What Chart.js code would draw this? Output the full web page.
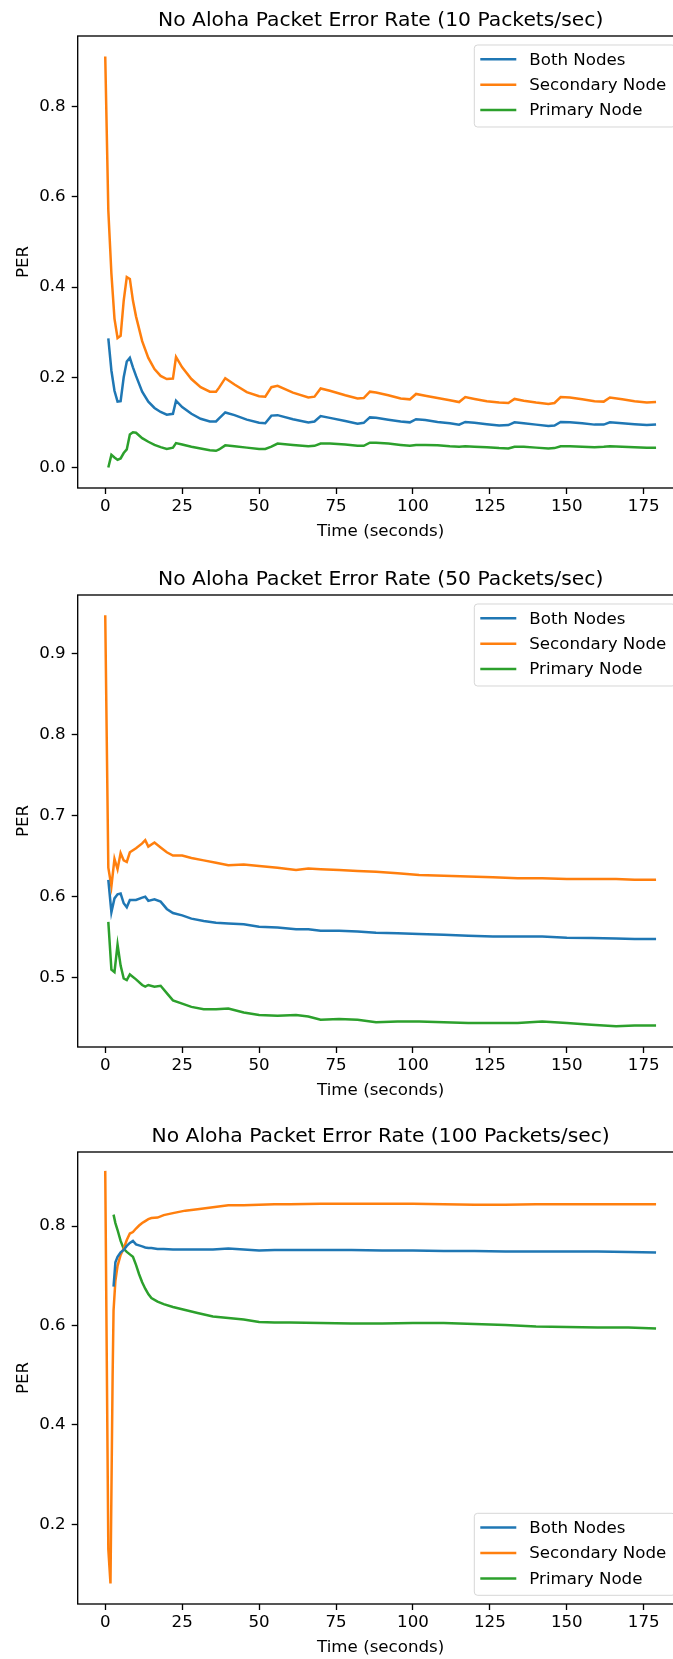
<!DOCTYPE html>
<html lang="en">
<head>
<meta charset="UTF-8">
<title>No Aloha Packet Error Rate</title>
<script src="https://cdn.jsdelivr.net/npm/chart.js"></script>
<style>
  html, body { margin: 0; padding: 0; background: #fff; overflow: hidden; }
  #wrap { position: relative; width: 673px; height: 1659px; overflow: hidden; }
  canvas { position: absolute; left: 0; }
</style>
</head>
<body>
<div id="wrap">
  <canvas id="chart10" width="700" height="560" style="top:0px"></canvas>
  <canvas id="chart50" width="700" height="560" style="top:558.6px"></canvas>
  <canvas id="chart100" width="700" height="560" style="top:1115.7px"></canvas>
</div>
<script>
// ---- data ----
const seriesNames = ['Both Nodes', 'Secondary Node', 'Primary Node'];
const xTicks = [0, 25, 50, 75, 100, 125, 150, 175];

// 10 packets/sec
const c1Title = 'No Aloha Packet Error Rate (10 Packets/sec)';
const c1YTicks = [0.0, 0.2, 0.4, 0.6, 0.8];
const c1Time = [0,1,2,3,4,5,6,7,8,9,10,12,14,16,18,20,22,23,25,28,31,34,36,37,39,42,46,50,52,54,56,61,66,68,70,73,78,82,84,86,88,92,96,99,101,104,108,112,115,117,120,124,128,131,133,136,140,144,146,148,151,155,159,162,164,168,172,176,179];
const c1Secondary = [0.911,0.57,0.43,0.33,0.287,0.292,0.37,0.422,0.418,0.37,0.335,0.28,0.243,0.218,0.203,0.196,0.197,0.245,0.222,0.196,0.178,0.168,0.168,0.177,0.198,0.184,0.167,0.158,0.157,0.178,0.181,0.166,0.155,0.157,0.175,0.170,0.160,0.153,0.154,0.168,0.166,0.160,0.153,0.151,0.163,0.159,0.154,0.149,0.145,0.156,0.152,0.147,0.144,0.143,0.152,0.148,0.144,0.141,0.143,0.156,0.155,0.151,0.147,0.146,0.155,0.151,0.147,0.144,0.145];
const c1Both = [null,0.286,0.215,0.17,0.146,0.147,0.2,0.235,0.243,0.222,0.203,0.168,0.146,0.132,0.123,0.117,0.119,0.148,0.134,0.119,0.108,0.102,0.102,0.109,0.122,0.116,0.106,0.099,0.098,0.115,0.116,0.107,0.1,0.102,0.114,0.110,0.103,0.097,0.099,0.111,0.110,0.106,0.102,0.1,0.107,0.105,0.101,0.098,0.095,0.101,0.099,0.096,0.093,0.094,0.1,0.098,0.095,0.092,0.093,0.101,0.1,0.098,0.095,0.095,0.1,0.098,0.096,0.094,0.095];
const c1Primary = [null,0.0,0.028,0.022,0.017,0.02,0.032,0.04,0.073,0.078,0.077,0.065,0.057,0.050,0.045,0.041,0.044,0.054,0.051,0.046,0.042,0.038,0.037,0.040,0.049,0.047,0.044,0.041,0.041,0.046,0.053,0.050,0.047,0.048,0.053,0.053,0.051,0.048,0.048,0.055,0.055,0.053,0.050,0.048,0.050,0.050,0.049,0.047,0.046,0.047,0.046,0.045,0.043,0.042,0.046,0.046,0.044,0.042,0.043,0.047,0.047,0.046,0.045,0.046,0.047,0.046,0.045,0.044,0.044];

// 50 packets/sec
const c2Title = 'No Aloha Packet Error Rate (50 Packets/sec)';
const c2YTicks = [0.5, 0.6, 0.7, 0.8, 0.9];
const c2Time = [0,1,2,3,4,5,6,7,8,10,12,13,14,16,18,20,22,25,28,32,36,40,45,50,56,62,66,70,76,82,88,95,102,110,118,126,134,142,150,158,166,172,179];
const c2Secondary = [0.948,0.636,0.613,0.647,0.634,0.654,0.645,0.643,0.655,0.660,0.666,0.670,0.662,0.667,0.661,0.655,0.651,0.651,0.648,0.645,0.642,0.639,0.640,0.638,0.636,0.633,0.635,0.634,0.633,0.632,0.631,0.629,0.627,0.626,0.625,0.624,0.623,0.623,0.622,0.622,0.622,0.621,0.621];
const c2Both = [null,0.621,0.581,0.598,0.603,0.604,0.592,0.587,0.596,0.596,0.599,0.600,0.595,0.597,0.594,0.585,0.580,0.577,0.573,0.570,0.568,0.567,0.566,0.563,0.562,0.560,0.560,0.558,0.558,0.557,0.5555,0.555,0.554,0.553,0.552,0.551,0.551,0.551,0.5495,0.549,0.5485,0.548,0.548];
const c2Primary = [null,0.569,0.510,0.507,0.541,0.515,0.499,0.497,0.504,0.498,0.491,0.489,0.491,0.489,0.490,0.481,0.472,0.468,0.464,0.461,0.461,0.462,0.457,0.454,0.453,0.454,0.452,0.448,0.449,0.448,0.445,0.446,0.446,0.445,0.444,0.444,0.444,0.446,0.444,0.442,0.440,0.441,0.441];

// 100 packets/sec
const c3Title = 'No Aloha Packet Error Rate (100 Packets/sec)';
const c3YTicks = [0.2, 0.4, 0.6, 0.8];
const c3Time = [0,1,1.7,2.4,2.7,3.3,4,5,6,7,8,9,10,11,12,13,14,15,17,19,22,26,30,35,40,45,50,55,60,70,80,90,100,110,120,130,140,150,160,170,179];
const c3Secondary = [0.911,0.15,0.081,0.5,0.63,0.69,0.72,0.742,0.755,0.772,0.785,0.788,0.795,0.801,0.806,0.81,0.814,0.816,0.817,0.822,0.826,0.831,0.834,0.838,0.842,0.842,0.843,0.844,0.844,0.845,0.845,0.845,0.845,0.844,0.843,0.843,0.844,0.844,0.844,0.844,0.844];
const c3Both = [null,null,null,null,0.678,0.727,0.738,0.747,0.752,0.76,0.766,0.770,0.763,0.761,0.759,0.757,0.756,0.756,0.754,0.754,0.753,0.753,0.753,0.753,0.755,0.753,0.751,0.752,0.752,0.752,0.752,0.751,0.751,0.750,0.750,0.749,0.749,0.749,0.749,0.748,0.747];
const c3Primary = [null,null,null,null,0.823,0.806,0.792,0.77,0.754,0.748,0.743,0.738,0.722,0.703,0.687,0.674,0.663,0.655,0.648,0.643,0.637,0.631,0.625,0.618,0.615,0.612,0.607,0.606,0.606,0.605,0.604,0.604,0.605,0.605,0.603,0.601,0.598,0.597,0.596,0.596,0.594];

// ---- drawing ----
const colors = ['#1f77b4', '#ff7f0e', '#2ca02c'];
const FONT = 'DejaVu Sans';
const tickFont = { family: FONT, size: 16.67 };

Chart.defaults.font.family = FONT;

function pairs(time, vals) {
    return time.map((t, i) => ({ x: t, y: vals[i] })).filter(p => p.y !== null);
}

// axes box like matplotlib spines
const frame = {
    id: 'frame',
    afterDatasetsDraw(chart) {
        const a = chart.chartArea;
        const ctx = chart.ctx;
        ctx.save();
        ctx.strokeStyle = '#000';
        ctx.lineWidth = 1.33;
        ctx.strokeRect(a.left, a.top, a.right - a.left, a.bottom - a.top);
        ctx.restore();
    }
};

// title centred over the axes, as matplotlib does
const axesTitle = {
    id: 'axesTitle',
    afterDraw(chart, args, opts) {
        const a = chart.chartArea;
        const ctx = chart.ctx;
        ctx.save();
        ctx.font = '20.3px "' + FONT + '"';
        ctx.fillStyle = '#000';
        ctx.textAlign = 'center';
        ctx.textBaseline = 'alphabetic';
        ctx.fillText(opts.text, (a.left + a.right) / 2, a.top - 10);
        ctx.restore();
    }
};

// matplotlib style legend box
const boxLegend = {
    id: 'boxLegend',
    afterDraw(chart, args, opts) {
        const a = chart.chartArea;
        const ctx = chart.ctx;
        const w = 201, h = 82;
        const x = a.right - 8.3 - w;
        const y = opts.corner === 'lower' ? a.bottom - 8.7 - h : a.top + 9;
        ctx.save();
        ctx.beginPath();
        ctx.roundRect(x, y, w, h, 3.3);
        ctx.fillStyle = 'rgba(255,255,255,0.8)';
        ctx.fill();
        ctx.strokeStyle = 'rgba(204,204,204,0.8)';
        ctx.lineWidth = 1;
        ctx.stroke();
        ctx.font = '16.67px "' + FONT + '"';
        ctx.textBaseline = 'middle';
        chart.data.datasets.forEach((ds, i) => {
            const cy = y + 14.3 + i * 25.4;
            ctx.strokeStyle = ds.borderColor;
            ctx.lineWidth = 2.5;
            ctx.beginPath();
            ctx.moveTo(x + 6, cy);
            ctx.lineTo(x + 42, cy);
            ctx.stroke();
            ctx.fillStyle = '#000';
            ctx.fillText(ds.label, x + 55, cy + 1);
        });
        ctx.restore();
    }
};

function makeChart(id, title, time, both, secondary, primary, yMin, yMax, yTicks, corner) {
    const values = [both, secondary, primary];
    new Chart(document.getElementById(id), {
        type: 'line',
        data: {
            datasets: seriesNames.map((name, i) => ({
                label: name,
                data: pairs(time, values[i]),
                borderColor: colors[i],
                borderWidth: 2.5,
                pointRadius: 0,
                tension: 0,
                fill: false
            }))
        },
        options: {
            responsive: false,
            animation: false,
            events: [],
            layout: { padding: { left: 0, right: 16.4, top: 36, bottom: 12 } },
            plugins: {
                legend: { display: false },
                tooltip: { enabled: false },
                title: { display: false },
                axesTitle: { text: title },
                boxLegend: { corner: corner }
            },
            scales: {
                x: {
                    type: 'linear',
                    min: -8.95,
                    max: 187.95,
                    afterBuildTicks: s => { s.ticks = xTicks.map(v => ({ value: v })); },
                    afterFit: s => { s.height = 60; },
                    border: { display: false },
                    grid: { drawOnChartArea: false, drawTicks: true, tickLength: 6, tickColor: '#000', tickWidth: 1.33 },
                    ticks: { color: '#000', font: tickFont, padding: 3, maxRotation: 0, autoSkip: false },
                    title: { display: true, text: 'Time (seconds)', color: '#000', font: tickFont, padding: { top: 0, bottom: 6.3 } }
                },
                y: {
                    min: yMin,
                    max: yMax,
                    afterBuildTicks: s => { s.ticks = yTicks.map(v => ({ value: v })); },
                    afterFit: s => { s.width = 77.7; },
                    border: { display: false },
                    grid: { drawOnChartArea: false, drawTicks: true, tickLength: 6, tickColor: '#000', tickWidth: 1.33 },
                    ticks: { color: '#000', font: tickFont, padding: 6, autoSkip: false, callback: v => v.toFixed(1) },
                    title: { display: true, text: 'PER', color: '#000', font: tickFont, padding: { top: 13.6, bottom: 0 } }
                }
            }
        },
        plugins: [frame, axesTitle, boxLegend]
    });
}

makeChart('chart10', c1Title, c1Time, c1Both, c1Secondary, c1Primary, -0.0455, 0.9565, c1YTicks, 'upper');
makeChart('chart50', c2Title, c2Time, c2Both, c2Secondary, c2Primary, 0.4144, 0.9729, c2YTicks, 'upper');
makeChart('chart100', c3Title, c3Time, c3Both, c3Secondary, c3Primary, 0.0395, 0.949, c3YTicks, 'lower');
</script>
</body>
</html>
